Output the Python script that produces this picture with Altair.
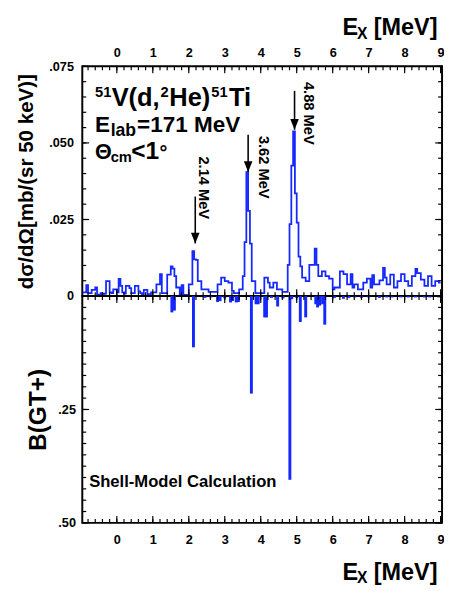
import altair as alt
import pandas as pd

# ---------------- data ----------------
# measured 51V(d,2He)51Ti spectrum, 50 keV bins, left bin edges start at -0.95 MeV
bin_start = -0.95
bin_width = 0.05
spec_m1 = [0.0012, 0.0012, 0.0036, 0.0010, 0.0010, 0.0020, 0.0020, 0.0028, 0.0005, 0.0005,
           0.0010, 0.0005, 0.0008, 0.0049, 0.0049, 0.0012, 0.0010, 0.0022, 0.0022]
spec_0 = [0.0012, 0.0056, 0.0033, 0.0012, 0.0008, 0.0033, 0.0033, 0.0026, 0.0010, 0.0010,
          0.0033, 0.0033, 0.0015, 0.0010, 0.0006, 0.0020, 0.0020, 0.0006, 0.0006, 0.0012]
spec_1 = [0.0012, 0.0012, 0.0038, 0.0038, 0.0072, 0.0010, 0.0010, 0.0010, 0.0070, 0.0070,
          0.0097, 0.0090, 0.0065, 0.0028, 0.0028, 0.0004, 0.0036, 0.0004, 0.0004, 0.0004]
spec_2 = [0.0038, 0.0038, 0.0147, 0.0120, 0.0118, 0.0049, 0.0049, 0.0022, 0.0022, 0.0022,
          0.0022, 0.0014, 0.0014, 0.0014, 0.0014, 0.0014, 0.0038, 0.0038, 0.0060, 0.0060]
spec_3 = [0.0049, 0.0049, 0.0044, 0.0044, 0.0017, 0.0010, 0.0010, 0.0010, 0.0022, 0.0022,
          0.0065, 0.0176, 0.0405, 0.0278, 0.0171, 0.0049, 0.0049, 0.0010, 0.0010, 0.0010]
spec_4 = [0.0010, 0.0010, 0.0060, 0.0060, 0.0044, 0.0028, 0.0028, 0.0044, 0.0044, 0.0022,
          0.0022, 0.0022, 0.0014, 0.0014, 0.0014, 0.0102, 0.0235, 0.0426, 0.0538, 0.0335]
spec_5 = [0.0240, 0.0129, 0.0097, 0.0060, 0.0060, 0.0049, 0.0049, 0.0102, 0.0102, 0.0102,
          0.0155, 0.0102, 0.0065, 0.0065, 0.0081, 0.0081, 0.0065, 0.0065, 0.0057, 0.0057]
spec_6 = [0.0022, 0.0028, 0.0028, 0.0028, 0.0081, 0.0081, 0.0072, 0.0072, 0.0038, 0.0038,
          0.0072, 0.0028, 0.0038, 0.0038, 0.0022, 0.0022, 0.0022, 0.0044, 0.0044, 0.0057]
spec_7 = [0.0057, 0.0028, 0.0068, 0.0038, 0.0038, 0.0038, 0.0051, 0.0051, 0.0092, 0.0060,
          0.0038, 0.0038, 0.0070, 0.0070, 0.0028, 0.0028, 0.0049, 0.0049, 0.0072, 0.0072]
spec_8 = [0.0049, 0.0049, 0.0033, 0.0033, 0.0065, 0.0065, 0.0089, 0.0075, 0.0075, 0.0054,
          0.0054, 0.0033, 0.0033, 0.0065, 0.0065, 0.0033, 0.0033, 0.0049, 0.0049, 0.0044]

# shell-model B(GT+) strengths
bgt_energy = [1.53, 1.60, 2.13, 2.45, 2.62, 2.80, 2.87, 3.00, 3.16, 3.22,
              3.32, 3.38, 3.74, 3.87, 3.93, 4.11, 4.16, 4.30, 4.47, 4.62,
              4.81, 4.86, 5.00, 5.10, 5.25, 5.53, 5.58, 5.64, 5.72, 5.78,
              6.05, 6.30, 6.45, 6.62, 6.80, 7.00, 7.30, 7.50, 7.65, 7.90,
              8.10, 8.30, 8.55, 8.70, 8.95]
bgt_value = [0.036, 0.032, 0.113, 0.004, 0.003, 0.013, 0.011, 0.005, 0.014, 0.011,
             0.014, 0.013, 0.215, 0.018, 0.018, 0.047, 0.047, 0.004, 0.023, 0.005,
             0.405, 0.007, 0.004, 0.057, 0.047, 0.018, 0.025, 0.021, 0.018, 0.063,
             0.004, 0.006, 0.004, 0.003, 0.004, 0.003, 0.004, 0.003, 0.003, 0.003,
             0.003, 0.003, 0.003, 0.003, 0.003]

# peak annotations
peak_labels = ["2.14 MeV", "3.62 MeV", "4.88 MeV"]
peak_label_x = [2.43, 4.10, 5.35]
peak_label_top = [0.0456, 0.0523, 0.0699]
arrow_x = [2.18, 3.65, 4.94]
arrow_from = [0.0325, 0.0527, 0.0670]
arrow_tip = [0.0172, 0.0405, 0.0543]

# axis ticks / labels
x_major = [0, 1, 2, 3, 4, 5, 6, 7, 8, 9]
x_minor = [round(-0.8 + 0.2 * i, 1) for i in range(50)]
ytop_labels = [0, 0.025, 0.05, 0.075]
ytop_minor = [round(0.005 * i, 3) for i in range(16)]
ybot_labels = [0.25, 0.5]
ybot_major = [0, 0.25, 0.5]
ybot_minor = [round(0.025 * i, 3) for i in range(21)]

# ---------------- style ----------------
BLUE = "#1428ff"
FONT = "Liberation Sans"
W, HT, HB = 368, 235, 232

xscale = alt.Scale(domain=[-0.96, 9.04], nice=False, zero=False)
ytop = alt.Scale(domain=[0, 0.075], nice=False, zero=False)
ybot = alt.Scale(domain=[0, 0.5], nice=False, zero=False, reverse=True)

lab = dict(labelFont=FONT, labelFontSize=13, labelFontWeight="bold", labelColor="black",
           ticks=False, domain=False, grid=False, labelFlush=False, labelOverlap=False,
           titleFont=FONT, titleFontWeight="bold", titleColor="black")

AX_TOP_X = alt.Axis(orient="top", values=x_major, format="d", title=None, labelPadding=7, **lab)
AX_TOP_Y = alt.Axis(orient="left", values=ytop_labels, title="dσ/dΩ[mb/(sr 50 keV)]",
                    labelExpr="datum.value == 0 ? '0' : substring(format(datum.value, '.3f'), 1)",
                    labelPadding=9, titleFontSize=21, titlePadding=13, **lab)
AX_BOT_X = alt.Axis(orient="bottom", values=x_major, format="d", title=None, labelPadding=11, **lab)
AX_BOT_Y = alt.Axis(orient="left", values=ybot_labels, title="B(GT+)",
                    labelExpr="substring(format(datum.value, '.2f'), 1)",
                    labelPadding=7, titleFontSize=25, titlePadding=8, **lab)

spectrum = spec_m1 + spec_0 + spec_1 + spec_2 + spec_3 + spec_4 + spec_5 + spec_6 + spec_7 + spec_8
edges = [round(bin_start + bin_width * i, 3) for i in range(len(spectrum) + 1)]
spec_df = pd.DataFrame({"E": edges, "S": spectrum + [spectrum[-1]]})
bgt_df = pd.DataFrame({"E": bgt_energy, "B": bgt_value})


def text_layer(text, x, y, yscale, yaxis, xaxis, size, dx=0, dy=0):
    df = pd.DataFrame({"t": [text], "x": [x], "y": [y]})
    return alt.Chart(df).mark_text(
        font=FONT, fontWeight="bold", fontSize=size, color="black",
        dx=dx, dy=dy, align="left", baseline="alphabetic"
    ).encode(
        x=alt.X("x:Q", scale=xscale, axis=xaxis),
        y=alt.Y("y:Q", scale=yscale, axis=yaxis),
        text="t:N",
    )


def tick_layers(yscale, H, ymajor, yminor, xaxis, yaxis):
    layers = []
    for vals, L in ((x_major, 7), (x_minor, 4)):
        df = pd.DataFrame({"v": vals})
        base = alt.Chart(df).mark_rule(color="black", strokeWidth=1.2)
        layers.append(base.encode(x=alt.X("v:Q", scale=xscale, axis=xaxis),
                                  y=alt.value(0), y2=alt.value(L)))
        layers.append(base.encode(x=alt.X("v:Q", scale=xscale, axis=xaxis),
                                  y=alt.value(H), y2=alt.value(H - L)))
    for vals, L in ((ymajor, 7), (yminor, 4)):
        df = pd.DataFrame({"v": vals})
        base = alt.Chart(df).mark_rule(color="black", strokeWidth=1.2)
        layers.append(base.encode(y=alt.Y("v:Q", scale=yscale, axis=yaxis),
                                  x=alt.value(0), x2=alt.value(L)))
        layers.append(base.encode(y=alt.Y("v:Q", scale=yscale, axis=yaxis),
                                  x=alt.value(W), x2=alt.value(W - L)))
    return layers


# ---------------- top panel ----------------
spec_line = alt.Chart(spec_df).mark_line(
    interpolate="step-after", color=BLUE, strokeWidth=1.8, clip=True
).encode(
    x=alt.X("E:Q", scale=xscale, axis=AX_TOP_X),
    y=alt.Y("S:Q", scale=ytop, axis=AX_TOP_Y),
)

arrow_df = pd.DataFrame({"x": arrow_x, "y0": arrow_from, "y1": arrow_tip})
arrow_shaft = alt.Chart(arrow_df).mark_rule(color="black", strokeWidth=1.6).encode(
    x=alt.X("x:Q", scale=xscale, axis=AX_TOP_X),
    y=alt.Y("y0:Q", scale=ytop, axis=AX_TOP_Y),
    y2="y1:Q",
)
arrow_head = alt.Chart(arrow_df).mark_point(
    shape="M -0.4 -1 L 0.4 -1 L 0 0 Z", filled=True, color="black", opacity=1, size=480, strokeWidth=0
).encode(
    x=alt.X("x:Q", scale=xscale, axis=AX_TOP_X),
    y=alt.Y("y1:Q", scale=ytop, axis=AX_TOP_Y),
)
plabel_df = pd.DataFrame({"t": peak_labels, "x": peak_label_x, "y": peak_label_top})
peak_text = alt.Chart(plabel_df).mark_text(
    font=FONT, fontWeight="bold", fontSize=15, color="black", angle=90, align="left", baseline="middle"
).encode(
    x=alt.X("x:Q", scale=xscale, axis=AX_TOP_X),
    y=alt.Y("y:Q", scale=ytop, axis=AX_TOP_Y),
    text="t:N",
)

inset_x = -0.606
row1, row2, row3 = 0.0622, 0.0537, 0.0447
T = dict(yscale=ytop, yaxis=AX_TOP_Y, xaxis=AX_TOP_X)
inset = [
    text_layer("51", inset_x, row1, size=15, dx=0, dy=-9, **T),
    text_layer("V(d,", inset_x, row1, size=26, dx=17, **T),
    text_layer("2", inset_x, row1, size=15, dx=67, dy=-9, **T),
    text_layer("He)", inset_x, row1, size=26, dx=76, **T),
    text_layer("51", inset_x, row1, size=15, dx=119, dy=-9, **T),
    text_layer("Ti", inset_x, row1, size=26, dx=137, **T),
    text_layer("E", inset_x, row2, size=23, dx=0, **T),
    text_layer("lab", inset_x, row2, size=18, dx=16, dy=5, **T),
    text_layer("=171 MeV", inset_x, row2, size=23, dx=43, **T),
    text_layer("Θ", inset_x, row3, size=22, dx=0, **T),
    text_layer("cm", inset_x, row3, size=15, dx=16, dy=3, **T),
    text_layer("<1", inset_x, row3, size=25, dx=37, **T),
    text_layer("°", inset_x, row3, size=20, dx=66, **T),
]

title_x = 6.27
top_title = [
    text_layer("E", title_x, 0.0852, size=24, dx=0, **T),
    text_layer("X", title_x, 0.0852, size=16, dx=15, dy=4, **T),
    text_layer("[MeV]", title_x, 0.0852, size=24, dx=32, **T),
]

top = alt.layer(
    spec_line, *tick_layers(ytop, HT, ytop_labels, ytop_minor, AX_TOP_X, AX_TOP_Y),
    arrow_shaft, arrow_head, peak_text, *inset, *top_title
).properties(width=W, height=HT)

# ---------------- bottom panel ----------------
sticks = alt.Chart(bgt_df).mark_rule(color=BLUE, strokeWidth=3).encode(
    x=alt.X("E:Q", scale=xscale, axis=AX_BOT_X),
    y=alt.Y("B:Q", scale=ybot, axis=AX_BOT_Y),
    y2=alt.datum(0),
)

B = dict(yscale=ybot, yaxis=AX_BOT_Y, xaxis=AX_BOT_X)
bottom_title = [
    text_layer("E", title_x, 0.625, size=24, dx=0, **B),
    text_layer("X", title_x, 0.625, size=16, dx=15, dy=3, **B),
    text_layer("[MeV]", title_x, 0.625, size=24, dx=32, **B),
]
shell_text = text_layer("Shell-Model Calculation", -0.77, 0.4218, size=17, **B)

bottom = alt.layer(
    sticks, *tick_layers(ybot, HB, ybot_major, ybot_minor, AX_BOT_X, AX_BOT_Y), shell_text, *bottom_title
).properties(width=W, height=HB)

chart = alt.vconcat(top, bottom, spacing=0, bounds="flush").properties(
    padding={"left": 6, "top": 1, "right": -2, "bottom": -2},
    background="white",
).configure_view(
    stroke="black", strokeWidth=2
)

chart.save("out.html", embed_options={"renderer": "svg", "actions": False})
